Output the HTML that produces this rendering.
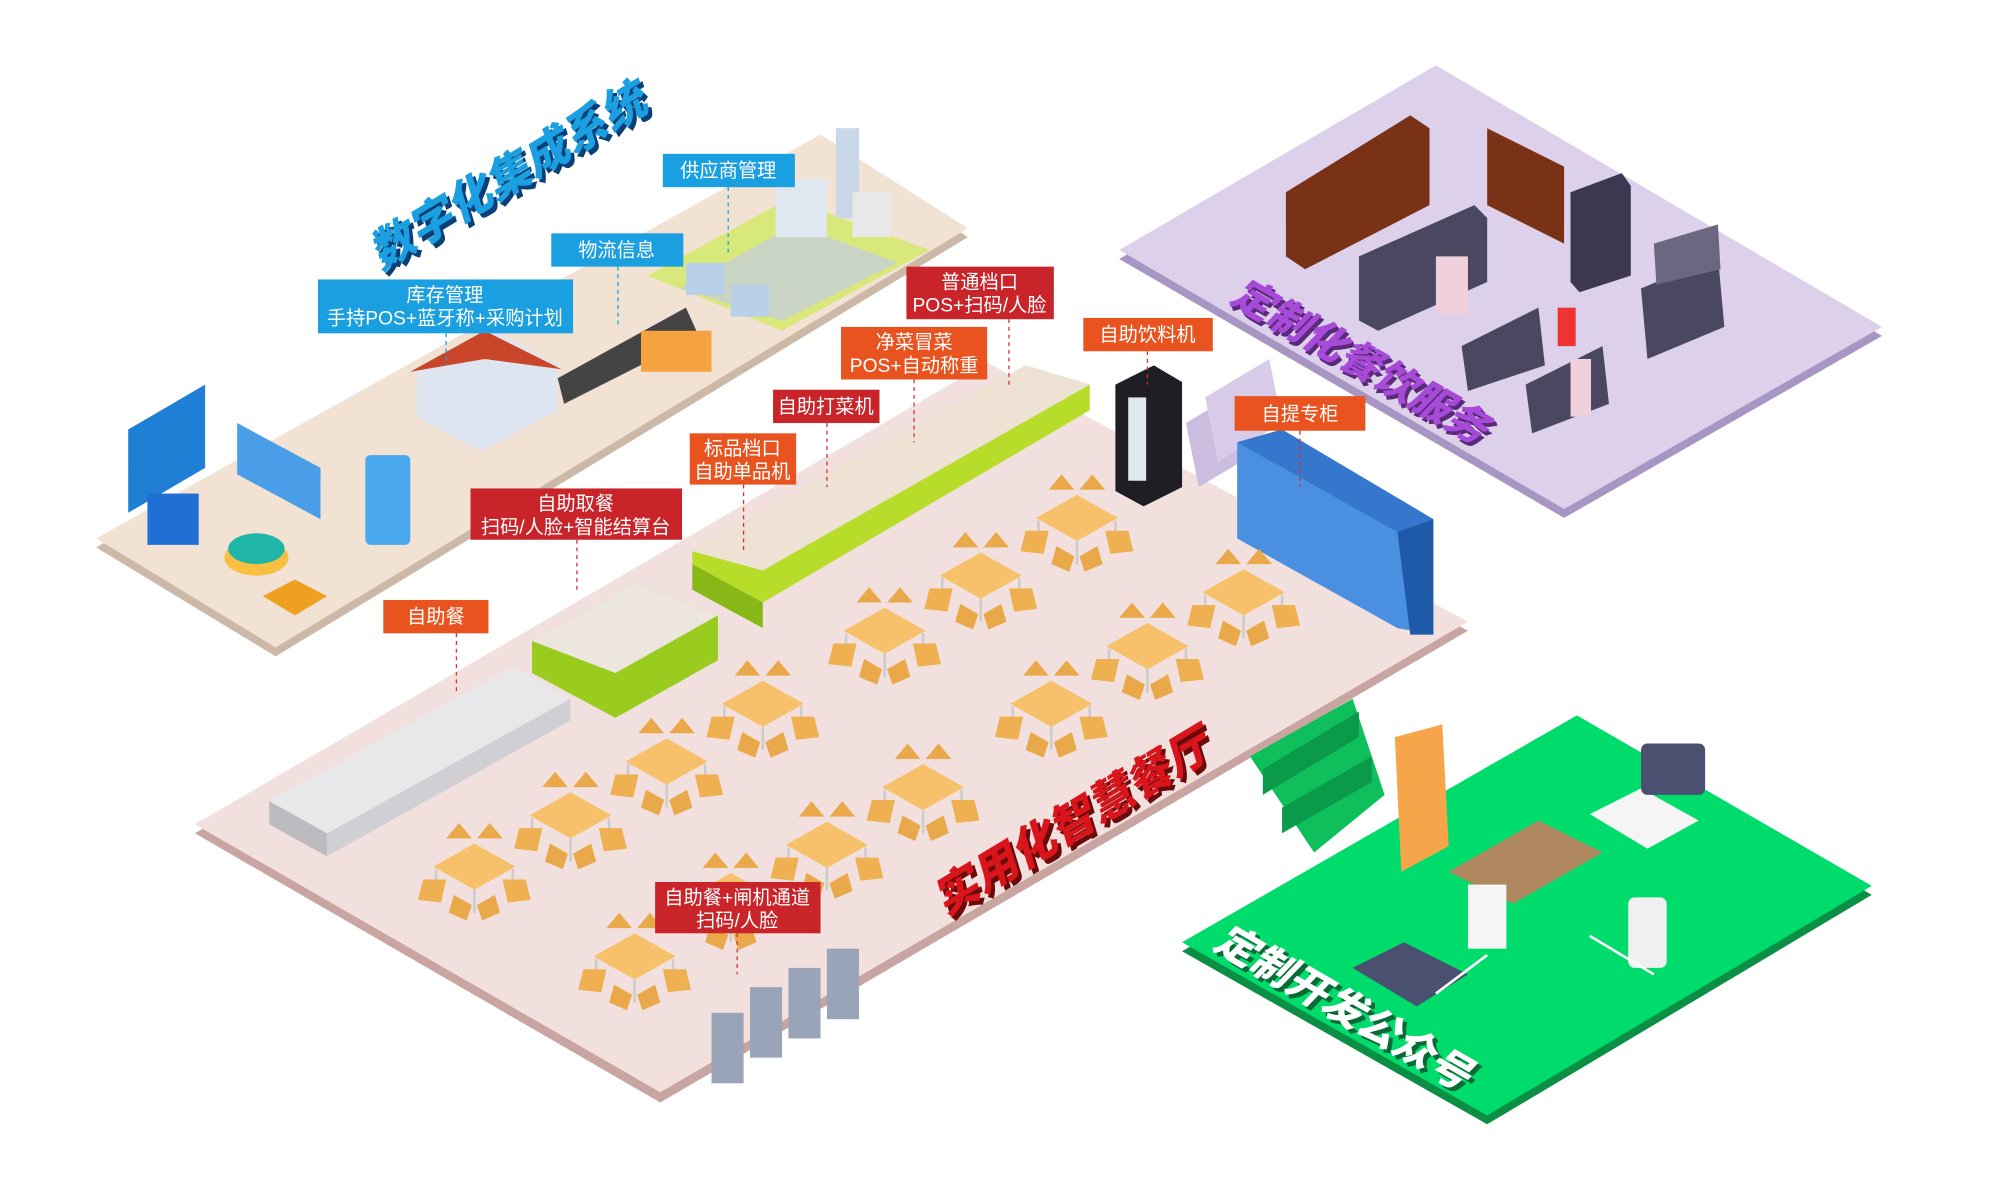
<!DOCTYPE html>
<html><head><meta charset="utf-8"><style>
html,body{margin:0;padding:0;background:#fff;}
svg{display:block}
.t{font-family:"Liberation Sans","Noto Sans CJK SC",sans-serif;fill:#fff;text-anchor:middle;font-size:15px}
.big{font-family:"Liberation Sans","Noto Sans CJK SC",sans-serif;font-weight:900;font-style:italic}
</style></head><body>
<svg width="2000" height="1182" viewBox="0 0 1560 922" preserveAspectRatio="none" xmlns="http://www.w3.org/2000/svg">
<defs>
<g id="tb">
 <polygon points="-22,-18 -12,-30 -2,-18" fill="#e9a94a"/>
 <polygon points="2,-18 12,-30 22,-18" fill="#e9a94a"/>
 <polygon points="0,-14 32,4 0,22 -32,4" fill="#f6c16a"/>
 <line x1="0" y1="22" x2="0" y2="40" stroke="#ccc" stroke-width="2"/>
 <line x1="-30" y1="6" x2="-30" y2="24" stroke="#ccc" stroke-width="2"/>
 <line x1="30" y1="6" x2="30" y2="24" stroke="#ccc" stroke-width="2"/>
 <polygon points="-40,14 -22,14 -26,32 -44,30" fill="#eeb050"/>
 <polygon points="22,14 40,14 44,30 26,32" fill="#eeb050"/>
 <polygon points="-16,26 -2,34 -6,46 -20,40" fill="#e9a94a"/>
 <polygon points="2,34 16,26 20,40 6,46" fill="#e9a94a"/>
</g>
</defs>
<polygon points="75,427 640,112 755,185 215,512" fill="#ccb8a6"/>
<polygon points="75,420 640,105 755,178 215,505" fill="#f1e2d3"/>
<polygon points="505,215 615,155 725,195 610,258" fill="#d9e87a"/>
<polygon points="530,225 620,175 700,205 610,250" fill="#c9d4c4"/>
<polygon points="152,650 770,290 1145,492 515,860" fill="#c8a5a0"/>
<polygon points="152,643 770,283 1145,485 515,852" fill="#f2e0de"/>
<polygon points="873,202 1120,58 1468,262 1220,404" fill="#a796c3"/>
<polygon points="873,195 1120,51 1468,255 1220,397" fill="#ddd0ea"/>
<polygon points="925,330 975,300 985,350 935,380" fill="#cbbde0"/>
<polygon points="940,310 990,280 1000,330 950,360" fill="#d8cbe8"/>
<polygon points="922,742 1230,565 1460,698 1160,877" fill="#0b8f45"/>
<polygon points="922,735 1230,558 1460,691 1160,870" fill="#00dc6c"/>
<polygon points="975,590 1055,545 1080,620 1025,665" fill="#0fbf5c"/>
<polygon points="985,600 1060,555 1060,575 985,620" fill="#0a9a4a"/>
<polygon points="1000,630 1070,590 1070,610 1000,650" fill="#0a9a4a"/>
<polygon points="1003,150 1100,90 1115,100 1115,160 1018,210 1003,200" fill="#7a3217"/>
<polygon points="1160,100 1220,130 1220,190 1160,160" fill="#7a3217"/>
<polygon points="1225,150 1265,135 1272,145 1272,215 1232,228 1225,220" fill="#3b3850"/>
<polygon points="1060,200 1150,160 1160,170 1160,220 1075,258 1060,250" fill="#4a4760"/>
<polygon points="1140,270 1200,240 1205,285 1145,305" fill="#4a4760"/>
<polygon points="1190,300 1250,270 1255,315 1195,338" fill="#4a4760"/>
<polygon points="1280,225 1340,200 1345,255 1285,280" fill="#4a4760"/>
<polygon points="1290,190 1340,175 1342,210 1292,222" fill="#6b6780"/>
<rect x="1120" y="200" width="25" height="45" fill="#f0d0dc"/><rect x="1215" y="240" width="14" height="30" fill="#e33"/>
<rect x="1225" y="280" width="16" height="45" fill="#f0d0dc"/>
<polygon points="325,290 385,258 435,285 435,320 375,352 325,325" fill="#dde6f0"/>
<polygon points="320,290 378,258 438,288 378,280" fill="#c9462a"/>
<polygon points="435,295 535,240 545,262 440,315" fill="#444"/>
<rect x="500" y="258" width="55" height="32" fill="#f5a340"/>
<rect x="535" y="205" width="30" height="25" fill="#b8d0e8"/><rect x="570" y="222" width="30" height="25" fill="#b8d0e8"/>
<rect x="605" y="140" width="40" height="45" fill="#dfe8f0"/><rect x="652" y="100" width="18" height="70" fill="#c8d8e8"/>
<rect x="665" y="150" width="30" height="35" fill="#e8e8e8"/>
<polygon points="100,335 160,300 160,365 100,400" fill="#1f7fd4"/>
<polygon points="185,330 250,365 250,405 185,370" fill="#4a9ee8"/>
<rect x="115" y="385" width="40" height="40" fill="#1f6fd4"/>
<ellipse cx="200" cy="435" rx="25" ry="14" fill="#f7c040"/><ellipse cx="200" cy="428" rx="22" ry="12" fill="#1fb6a8"/>
<polygon points="205,465 230,452 255,465 230,480" fill="#f0a020"/>
<rect x="285" y="355" width="35" height="70" rx="4" fill="#4aa8ee"/>
<polygon points="540,430 800,285 850,300 850,320 595,470 540,440" fill="#b7dc29"/>
<polygon points="540,430 800,285 850,300 595,445" fill="#ede2d4"/>
<polygon points="540,440 595,470 595,490 540,460" fill="#88b818"/>
<polygon points="415,500 495,455 560,480 560,515 480,560 415,525" fill="#9acc1f"/>
<polygon points="415,500 495,455 560,480 480,525" fill="#ece6de"/>
<polygon points="210,625 400,520 445,545 255,650" fill="#e8e8ea"/>
<polygon points="210,625 255,650 255,668 210,643" fill="#bbbbc0"/>
<polygon points="255,650 445,545 445,562 255,668" fill="#d0d0d4"/>
<polygon points="870,300 900,285 922,298 922,380 892,395 870,383" fill="#1e1e24"/>
<rect x="880" y="310" width="14" height="65" fill="#dfe8ee"/>
<polygon points="965,345 1000,335 1118,405 1118,495 1090,490 965,420" fill="#4a8fe0"/>
<polygon points="965,345 1000,335 1118,405 1090,415" fill="#3577cc"/>
<polygon points="1090,415 1118,405 1118,495 1100,495" fill="#1e5aa8"/>
<rect x="555" y="790" width="25" height="55" fill="#9aa4b8"/><rect x="585" y="770" width="25" height="55" fill="#9aa4b8"/><rect x="615" y="755" width="25" height="55" fill="#9aa4b8"/><rect x="645" y="740" width="25" height="55" fill="#9aa4b8"/>
<polygon points="1088,575 1125,565 1130,660 1093,680" fill="#f7a54a"/>
<polygon points="1130,680 1200,640 1250,665 1180,705" fill="#b08860"/>
<rect x="1145" y="690" width="30" height="50" fill="#f5f5f5"/>
<polygon points="1055,755 1095,735 1145,760 1105,785" fill="#4a5070"/>
<polygon points="1240,635 1280,615 1325,640 1285,662" fill="#f5f5f5"/>
<rect x="1280" y="580" width="50" height="40" rx="5" fill="#4a5070"/>
<rect x="1270" y="700" width="30" height="55" rx="5" fill="#f0f0f0"/>
<line x1="1120" y1="775" x2="1160" y2="745" stroke="#fff" stroke-width="2"/>
<line x1="1240" y1="730" x2="1290" y2="760" stroke="#fff" stroke-width="2"/>
<use href="#tb" x="595" y="545"/><use href="#tb" x="520" y="590"/><use href="#tb" x="445" y="632"/><use href="#tb" x="370" y="672"/>
<use href="#tb" x="690" y="488"/><use href="#tb" x="765" y="445"/><use href="#tb" x="840" y="400"/>
<use href="#tb" x="820" y="545"/><use href="#tb" x="895" y="500"/><use href="#tb" x="970" y="458"/>
<use href="#tb" x="720" y="610"/><use href="#tb" x="645" y="655"/><use href="#tb" x="570" y="695"/><use href="#tb" x="495" y="742"/>
<g stroke-dasharray="3,3" stroke-width="1">
<line x1="568" y1="146" x2="568" y2="200" stroke="#1a9fe0"/>
<line x1="482" y1="208" x2="482" y2="255" stroke="#1a9fe0"/>
<line x1="348" y1="260" x2="348" y2="285" stroke="#1a9fe0"/>
<line x1="787" y1="249" x2="787" y2="300" stroke="#d03030"/>
<line x1="713" y1="296" x2="713" y2="345" stroke="#d03030"/>
<line x1="645" y1="330" x2="645" y2="380" stroke="#d03030"/>
<line x1="580" y1="378" x2="580" y2="430" stroke="#d03030"/>
<line x1="895" y1="274" x2="895" y2="300" stroke="#d03030"/>
<line x1="1014" y1="336" x2="1014" y2="380" stroke="#d03030"/>
<line x1="450" y1="421" x2="450" y2="460" stroke="#d03030"/>
<line x1="356" y1="494" x2="356" y2="540" stroke="#d03030"/>
<line x1="575" y1="728" x2="575" y2="760" stroke="#d03030"/>
</g>
<g class="t">
<rect x="517" y="120" width="103" height="26" fill="#1a9fe0"/><text x="568" y="138">供应商管理</text>
<rect x="430" y="182" width="103" height="26" fill="#1a9fe0"/><text x="481" y="200">物流信息</text>
<rect x="248" y="218" width="199" height="42" fill="#1a9fe0"/><text x="347" y="235">库存管理</text><text x="347" y="253">手持POS+蓝牙称+采购计划</text>
<rect x="707" y="208" width="115" height="41" fill="#c8242a"/><text x="764" y="225">普通档口</text><text x="764" y="243">POS+扫码/人脸</text>
<rect x="656" y="255" width="114" height="41" fill="#e8531f"/><text x="713" y="272">净菜冒菜</text><text x="713" y="290">POS+自动称重</text>
<rect x="603" y="304" width="83" height="26" fill="#c8242a"/><text x="644" y="322">自助打菜机</text>
<rect x="538" y="338" width="83" height="40" fill="#e8531f"/><text x="579" y="355">标品档口</text><text x="579" y="373">自助单品机</text>
<rect x="845" y="248" width="101" height="26" fill="#e8531f"/><text x="895" y="266">自助饮料机</text>
<rect x="963" y="309" width="102" height="27" fill="#e8531f"/><text x="1014" y="328">自提专柜</text>
<rect x="367" y="381" width="165" height="40" fill="#c8242a"/><text x="449" y="398">自助取餐</text><text x="449" y="416">扫码/人脸+智能结算台</text>
<rect x="299" y="468" width="82" height="26" fill="#e8531f"/><text x="340" y="486">自助餐</text>
<rect x="511" y="688" width="129" height="40" fill="#c8242a"/><text x="575" y="705">自助餐+闸机通道</text><text x="575" y="723">扫码/人脸</text>
</g>
<g class="big">
<text transform="translate(300,214) rotate(-31)" fill="#0b3f78" font-size="35">数字化集成系统</text>
<text transform="translate(297,211) rotate(-31)" fill="#1a9fe0" font-size="35">数字化集成系统</text>
<text transform="translate(960,238) rotate(30)" fill="#5a2a7a" font-size="32">定制化餐饮服务</text>
<text transform="translate(958,235) rotate(30)" fill="#a74ad8" font-size="32">定制化餐饮服务</text>
<text transform="translate(740,718) rotate(-31)" fill="#6a0a0a" font-size="35">实用化智慧餐厅</text>
<text transform="translate(737,715) rotate(-31)" fill="#d9141a" font-size="35">实用化智慧餐厅</text>
<text transform="translate(948,742) rotate(30)" fill="#0a6a35" font-size="32">定制开发公众号</text>
<text transform="translate(945,739) rotate(30)" fill="#fff" font-size="32">定制开发公众号</text>
</g>
</svg>
</body></html>
